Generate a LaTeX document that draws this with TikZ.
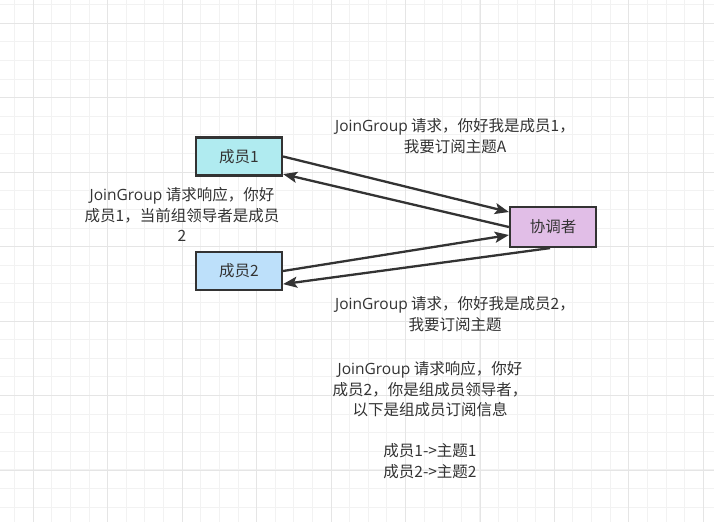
\documentclass[tikz,border=0pt]{standalone}
\usepackage{fontspec}
\setmainfont{Noto Sans CJK SC}
\newfontfamily\latf{Open Sans}
\usetikzlibrary{arrows.meta}
\definecolor{txt}{HTML}{333333}
\definecolor{gminor}{HTML}{F2F2F2}
\definecolor{gmajor}{HTML}{E5E5E5}
\definecolor{fillA}{HTML}{B0EBF0}
\definecolor{fillB}{HTML}{BDE0FA}
\definecolor{fillC}{HTML}{E1BEE7}
\newcommand{\jg}{{\latf JoinGroup}}
\tikzset{
  boxnode/.style={draw=txt, line width=2.2pt, minimum width=86pt, inner sep=0pt, text=txt,
    font=\fontsize{15.5}{20.5}\selectfont},
  lbl/.style={align=center, inner sep=0pt, text=txt, font=\fontsize{15.5}{20.5}\selectfont},
  conn/.style={draw=txt, line width=2.3pt, -{Stealth[length=14pt,width=11pt,inset=3pt]}},
}
\begin{document}
\begin{tikzpicture}[x=1pt,y=-1pt]
\useasboundingbox (0,0) rectangle (714,522);
\fill[white] (0,0) rectangle (714,522);
% grid
\foreach \i in {-1,...,37} {\draw[gminor, line width=1pt] ({33.3+\i*18.61},0) -- ++(0,522);}
\foreach \i in {-1,...,27} {\draw[gminor, line width=1pt] (0,{23.3+\i*18.61}) -- ++(714,0);}
\foreach \i in {0,...,9} {\draw[gmajor, line width=1pt] ({33.3+\i*74.45},0) -- ++(0,522);}
\foreach \i in {0,...,6} {\draw[gmajor, line width=1pt] (0,{23.3+\i*74.45}) -- ++(714,0);}
% boxes
\node[boxnode, fill=fillA, minimum height=38pt] (m1) at (239,156.5) {成员1};
\node[boxnode, fill=fillB, minimum height=38pt] (m2) at (239,271) {成员2};
\node[boxnode, fill=fillC, minimum height=40pt] (co) at (553,227) {协调者};
% connectors
\draw[conn] (m1.east) -- ([yshift=15pt]co.west);
\draw[conn] (co.west) -- ([yshift=2.5pt]m1.south east);
\draw[conn] (m2.east) -- ([yshift=-8pt]co.west);
\draw[conn] ([xshift=-3pt]co.south) -- ([yshift=7pt]m2.south east);
% labels
\node[lbl] (t1) at (455,136) {\jg{} 请求，你好我是成员1，\\我要订阅主题A};
\node[lbl] (t2) at (182,214.5) {\jg{} 请求响应，你好\\成员1，当前组领导者是成员\\2};
\node[lbl] (t3) at (455,314) {\jg{} 请求，你好我是成员2，\\我要订阅主题};
\node[lbl] (t4) at (430,420) {\jg{} 请求响应，你好\\成员2，你是组成员领导者，\\以下是组成员订阅信息\\~\\成员1->主题1\\成员2->主题2};
\end{tikzpicture}
\end{document}
